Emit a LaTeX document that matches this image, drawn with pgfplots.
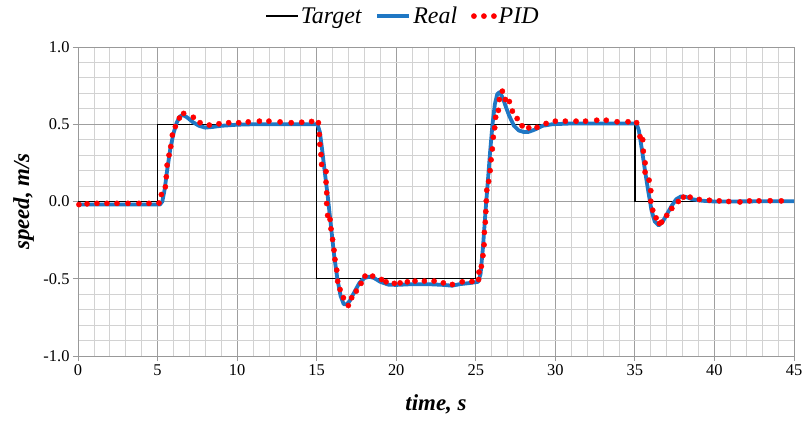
\documentclass[border=0pt]{standalone}
\usepackage{fontspec}
\setmainfont{Liberation Serif}
\usepackage{pgfplots}
\pgfplotsset{compat=1.18}

\definecolor{realblue}{HTML}{1F77C4}

\begin{document}
\begin{tikzpicture}
\begin{axis}[
    scale only axis,
    width=716bp, height=309bp,
    xmin=0, xmax=45, ymin=-1, ymax=1,
    xtick={0,5,...,45},
    ytick={-1,-0.5,0,0.5,1},
    xticklabel={\pgfmathprintnumber[assume math mode=true]{\tick}},
    yticklabel={\ifdim\tick pt=0pt 0.0\else\pgfmathprintnumber[assume math mode=true,fixed,fixed zerofill,precision=1]{\tick}\fi},
    minor x tick num=4,
    minor y tick num=4,
    grid=both,
    major grid style={gray!75, line width=0.8bp},
    minor grid style={gray!35, line width=0.8bp},
    axis line style={gray!80, line width=0.8bp},
    tick align=outside,
    major tick length=5bp,
    minor tick length=0pt,
    tick style={gray!80, line width=0.8bp},
    xtick pos=bottom, ytick pos=left,
    ticklabel style={font=\fontsize{16.5}{18}\selectfont},
    xlabel={time, s},
    ylabel={speed, m/s},
    label style={font=\fontsize{23}{26}\selectfont\bfseries\itshape},
    xlabel style={at={(axis description cs:0.5,-0.155)}, anchor=center},
    ylabel style={at={(axis description cs:-0.076,0.5)}, anchor=center},
    legend columns=3,
    legend style={at={(axis description cs:0.454,1.10)}, anchor=center, draw=none,
        fill=none, font=\fontsize{24}{27}\selectfont\itshape,
        /tikz/every even column/.append style={column sep=12bp}},
]
\addplot[black, line width=1.3bp,
    legend image code/.code={\draw[black, line width=1.3bp] (0,0) -- (32bp,0);}]
coordinates {
    (0,0) (5,0) (5,0.5) (15,0.5) (15,-0.5) (25,-0.5) (25,0.5) (35,0.5) (35,0) (45,0)
};
\addlegendentry{Target}

\addplot[realblue, line width=3.8bp, line join=round,
    legend image code/.code={\draw[realblue, line width=3.8bp] (0,0) -- (32bp,0);}]
coordinates {
    (0,-0.02) (5.15,-0.02) (5.3,0.0) (5.45,0.08) (5.6,0.2) (5.8,0.34) (6.0,0.44)
    (6.2,0.51) (6.4,0.55) (6.6,0.56) (6.85,0.545) (7.2,0.515) (7.6,0.49) (8.0,0.478)
    (8.5,0.483) (9.0,0.49) (10,0.497) (11,0.5) (12,0.5) (13,0.5) (14,0.5) (15.05,0.5)
    (15.2,0.45) (15.35,0.33) (15.5,0.2) (15.7,0.03) (15.9,-0.16) (16.1,-0.35)
    (16.3,-0.5) (16.5,-0.61) (16.7,-0.665) (16.9,-0.665) (17.1,-0.64) (17.4,-0.58)
    (17.7,-0.525) (18.0,-0.495) (18.3,-0.487) (18.6,-0.495) (19.0,-0.52) (19.5,-0.538)
    (20.0,-0.54) (21,-0.535) (22,-0.535) (23,-0.54) (23.5,-0.545) (24,-0.535)
    (24.6,-0.528) (25.15,-0.52) (25.3,-0.47) (25.45,-0.3) (25.6,-0.08) (25.75,0.12)
    (25.9,0.32) (26.05,0.5) (26.2,0.63) (26.35,0.695) (26.5,0.708) (26.7,0.67)
    (26.9,0.61) (27.1,0.555) (27.4,0.49) (27.7,0.46) (28.0,0.45) (28.3,0.45)
    (28.7,0.465) (29.2,0.49) (29.8,0.5) (31,0.505) (33,0.505) (35.1,0.505)
    (35.25,0.46) (35.45,0.33) (35.65,0.19) (35.85,0.06) (36.05,-0.06) (36.25,-0.13)
    (36.5,-0.155) (36.75,-0.13) (37.0,-0.085) (37.3,-0.03) (37.6,0.015) (37.9,0.033)
    (38.2,0.03) (38.6,0.015) (39.2,0.005) (40,0) (45,0.002)
};
\addlegendentry{Real}

\addplot[only marks, mark=*, mark size=2.6bp, mark options={fill=red, draw=red},
    legend image code/.code={\foreach \i in {0,10,20}{\fill[red] (\i bp+3bp,0) circle (2.6bp);}}]
coordinates {
    (0.06,-0.02) (0.57,-0.015) (1.19,-0.012) (1.82,-0.012) (2.45,-0.012) (3.14,-0.012)
    (3.83,-0.012) (4.46,-0.012) (5.09,-0.01) (5.24,0.045) (5.49,0.095) (5.55,0.16)
    (5.6,0.235) (5.72,0.30) (5.83,0.356) (5.93,0.43) (6.12,0.485) (6.37,0.54)
    (6.64,0.57) (7.25,0.545) (7.67,0.51) (8.25,0.495) (8.86,0.503) (9.47,0.51)
    (10.1,0.51) (10.7,0.515) (11.4,0.52) (12.0,0.52) (12.7,0.515) (13.4,0.51)
    (14.06,0.513) (14.68,0.518) (15.11,0.51) (15.17,0.434) (15.2,0.37) (15.27,0.304)
    (15.31,0.24) (15.59,0.194) (15.59,0.125) (15.63,0.056) (15.63,-0.013) (15.69,-0.09)
    (15.84,-0.116) (15.9,-0.177) (16.0,-0.246) (16.09,-0.315) (16.15,-0.375)
    (16.26,-0.444) (16.32,-0.516) (16.47,-0.57) (16.68,-0.623) (16.99,-0.673)
    (17.2,-0.623) (17.49,-0.58) (17.79,-0.53) (18.04,-0.483) (18.52,-0.483)
    (19.08,-0.505) (19.36,-0.52) (19.88,-0.53) (20.24,-0.527) (20.7,-0.52)
    (21.18,-0.515) (21.77,-0.515) (22.38,-0.515) (22.96,-0.527) (23.53,-0.537)
    (24.15,-0.52) (24.76,-0.518) (25.18,-0.505) (25.2,-0.457) (25.35,-0.42)
    (25.45,-0.35) (25.52,-0.28) (25.54,-0.20) (25.6,-0.134) (25.63,-0.065)
    (25.66,0.004) (25.69,0.073) (25.81,0.13) (25.9,0.2) (25.96,0.27) (26.04,0.34)
    (26.1,0.416) (26.19,0.477) (26.25,0.545) (26.42,0.59) (26.48,0.66) (26.67,0.714)
    (26.86,0.66) (27.11,0.647) (27.3,0.585) (27.6,0.537) (27.91,0.49) (28.33,0.477)
    (28.85,0.48) (29.42,0.505) (30.0,0.52) (30.63,0.52) (31.3,0.52) (31.9,0.52)
    (32.6,0.526) (33.2,0.526) (33.88,0.516) (34.57,0.516) (35.11,0.51) (35.32,0.42)
    (35.49,0.40) (35.53,0.326) (35.64,0.25) (35.64,0.19) (35.89,0.138) (36.0,0.07)
    (36.0,0.002) (36.12,-0.056) (36.33,-0.106) (36.54,-0.142) (36.68,-0.134)
    (37.0,-0.09) (37.32,-0.045) (37.73,0.0) (38.05,0.028) (38.47,0.028) (39.05,0.013)
    (39.68,0.008) (40.3,0.004) (40.9,0.0) (41.6,-0.003) (42.2,0.004) (42.8,0.004)
    (43.5,0.005) (44.2,0.004)
};
\addlegendentry{PID}
\end{axis}
\pgfresetboundingbox
\path (-78bp,-67bp) rectangle (725bp,356bp);
\end{tikzpicture}
\end{document}
